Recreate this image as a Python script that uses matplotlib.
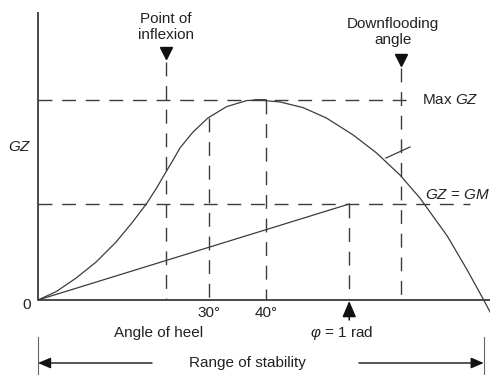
import numpy as np
import matplotlib
matplotlib.use("Agg")
import matplotlib.pyplot as plt

plt.rcParams['font.family'] = ['Liberation Sans', 'DejaVu Sans']
plt.rcParams['mathtext.fontset'] = 'custom'
plt.rcParams['mathtext.rm'] = 'Liberation Sans'
plt.rcParams['mathtext.it'] = 'Liberation Sans:italic'

# GZ curve (angle of heel in degrees, GZ relative to max GZ)
curve_deg = [0, 3.2, 6.7, 10.2, 13.7, 16.6, 19.0, 20.8, 22.3, 23.7, 24.9, 27.2, 29.8, 33.1, 36.6, 38.6,
             42.5, 46.5, 50.6, 55.3, 59.4, 63.5, 67.0, 71.8, 75.3, 78.2, 79.5]
curve_gz = [0, 0.042, 0.11, 0.19, 0.29, 0.39, 0.48, 0.56, 0.633, 0.70, 0.76, 0.84, 0.91, 0.967, 0.997, 1.0,
            0.99, 0.962, 0.91, 0.825, 0.735, 0.625, 0.51, 0.32, 0.15, 0.0, -0.07]

# key angles
inflexion_deg = 22.5
deg_30 = 30
deg_40 = 40
one_rad_deg = 54.6
downflood_deg = 63.7
vanish_deg = 78.2

max_gz = 1.0
gm_gz = 0.48
gz_at_30 = 0.91

line_col = '#3c3c3c'
text_col = '#222222'
dash = (0, (10, 7))

fig = plt.figure(figsize=(4.9, 3.75), dpi=100)
ax = fig.add_axes([0, 0, 1, 1])
ax.set_xlim(-6.67, 79.3)
ax.set_ylim(-0.375, 1.5)
ax.axis('off')

# axes
ax.plot([0, 0], [0, 1.44], color=line_col, lw=1.3, solid_capstyle='butt')
ax.plot([0, 80], [0, 0], color=line_col, lw=1.3, solid_capstyle='butt')

# GZ curve and the GM line
ax.plot(curve_deg, curve_gz, color=line_col, lw=0.9)
ax.plot([0, one_rad_deg], [0, gm_gz], color=line_col, lw=0.9)

# tangent tick near downflooding angle
ax.plot([61.05, 65.26], [0.71, 0.765], color=line_col, lw=0.9)

# dashed guide lines
kw = dict(color=line_col, lw=1.0, linestyle=dash)
ax.plot([0, 65.3], [max_gz, max_gz], **kw)
ax.plot([0, 75.8], [gm_gz, gm_gz], **kw)
ax.plot([inflexion_deg, inflexion_deg], [1.19, 0], **kw)
ax.plot([downflood_deg, downflood_deg], [1.16, 0], **kw)
ax.plot([deg_30, deg_30], [gz_at_30, 0], **kw)
ax.plot([deg_40, deg_40], [max_gz, 0], **kw)
ax.plot([one_rad_deg, one_rad_deg], [gm_gz, 0], **kw)
ax.plot([38.1, deg_40], [max_gz, max_gz], color=line_col, lw=1.3)

# markers
ax.plot([inflexion_deg], [1.235], marker='v', color='#111111', markersize=9)
ax.plot([downflood_deg], [1.2], marker='v', color='#111111', markersize=9)

# texts
tk = dict(color=text_col, fontsize=11)
ax.text(inflexion_deg, 1.365, 'Point of\ninflexion', ha='center', va='center', linespacing=1.1, **tk)
ax.text(62.3, 1.34, 'Downflooding\nangle', ha='center', va='center', linespacing=1.1, **tk)
ax.text(67.4, max_gz, 'Max $GZ$', ha='left', va='center', **tk)
ax.text(67.9, 0.525, '$GZ$ = $GM$', ha='left', va='center', **tk)
ax.text(-1.05, 0.765, '$GZ$', ha='right', va='center', **tk)
ax.text(-1.2, -0.025, '0', ha='right', va='center', **tk)
ax.text(deg_30, -0.065, '30°', ha='center', va='center', **tk)
ax.text(deg_40, -0.065, '40°', ha='center', va='center', **tk)
ax.text(21.2, -0.165, 'Angle of heel', ha='center', va='center', **tk)
ax.text(53.3, -0.165, r'$\varphi$ = 1 rad', ha='center', va='center', **tk)
ax.text(36.8, -0.315, 'Range of stability', ha='center', va='center', **tk)

# 1 rad arrow
arrow_kw = dict(arrowstyle='-|>,head_length=0.7,head_width=0.3', color='#111111', lw=1.1,
                mutation_scale=14, shrinkA=0, shrinkB=0)
ax.annotate('', xy=(one_rad_deg, -0.005), xytext=(one_rad_deg, -0.1), arrowprops=arrow_kw)

# range of stability
range_kw = dict(arrowstyle='-|>,head_length=0.7,head_width=0.3', color='#111111', lw=1.0,
                mutation_scale=11, shrinkA=0, shrinkB=0)
ax.plot([0, 0], [-0.185, -0.375], color='#666666', lw=0.8)
ax.plot([vanish_deg, vanish_deg], [-0.185, -0.375], color='#666666', lw=0.8)
ax.annotate('', xy=(0, -0.315), xytext=(20, -0.315), arrowprops=range_kw)
ax.annotate('', xy=(vanish_deg, -0.315), xytext=(56.3, -0.315), arrowprops=range_kw)

fig.savefig('out.png', dpi=100)
